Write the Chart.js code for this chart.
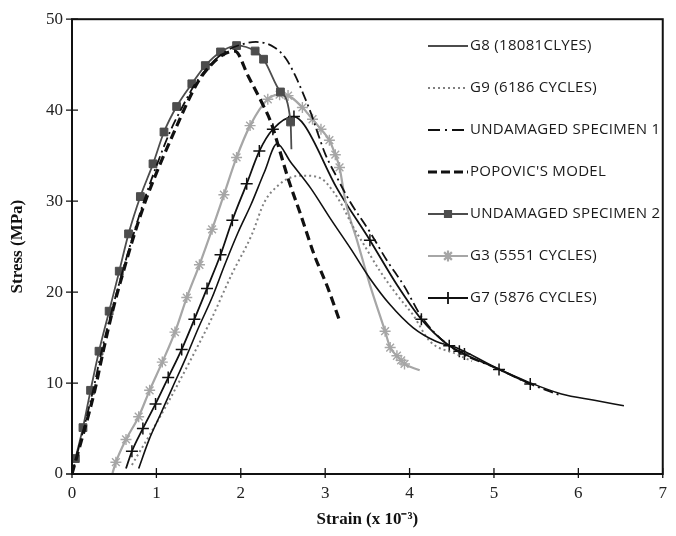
<!DOCTYPE html>
<html>
<head>
<meta charset="utf-8">
<script src="https://cdn.jsdelivr.net/npm/chart.js@4.4.1/dist/chart.umd.min.js"></script>
<style>
  html, body { margin: 0; padding: 0; background: #fff; }
  #wrap { width: 676px; height: 536px; }
</style>
</head>
<body>
<div id="wrap"><canvas id="myChart" width="676" height="536"></canvas></div>
<script>
// axis ticks
const strainTicks = [0, 1, 2, 3, 4, 5, 6, 7];
const stressTicks = [0, 10, 20, 30, 40, 50];

const seriesLabels = [
  "G8 (18081CLYES)",
  "G9 (6186 CYCLES)",
  "UNDAMAGED SPECIMEN 1",
  "POPOVIC'S MODEL",
  "UNDAMAGED SPECIMEN 2",
  "G3 (5551 CYCLES)",
  "G7 (5876 CYCLES)"
];

// strain (x 10^-3) / stress (MPa) per specimen
const g8Strain = [0.79, 0.91, 1.05, 1.19, 1.35, 1.50, 1.66, 1.81, 1.97, 2.12, 2.28, 2.43, 2.59, 2.83, 3.06, 3.30, 3.53, 3.77, 4.04, 4.31, 4.55, 5.02, 5.41, 5.80, 6.19, 6.54];
const g8Stress = [0.6, 3.7, 6.6, 9.5, 12.8, 16.1, 19.4, 23.0, 26.6, 29.6, 33.2, 36.3, 34.3, 31.4, 28.1, 24.8, 21.5, 18.6, 16.1, 14.6, 13.9, 11.7, 10.1, 8.8, 8.1, 7.5];

const g9Strain = [0.71, 0.92, 1.14, 1.42, 1.66, 1.89, 2.13, 2.28, 2.44, 2.59, 2.75, 2.95, 3.10, 3.22, 3.30, 3.46, 3.65, 3.85, 4.04, 4.24, 4.55, 4.74];
const g9Stress = [1.0, 4.3, 7.9, 12.8, 17.2, 21.9, 26.3, 29.9, 31.7, 32.6, 32.8, 32.5, 31.0, 29.2, 27.7, 25.2, 22.3, 19.7, 17.5, 14.6, 13.2, 12.4];

const und1Strain = [0, 0.25, 0.35, 0.47, 0.60, 0.73, 0.87, 1.01, 1.16, 1.31, 1.46, 1.63, 1.81, 2.00, 2.18, 2.40, 2.54, 2.64, 2.74, 2.83, 2.90, 3.00, 3.14, 3.29, 3.53, 3.73, 3.94, 4.14, 4.47, 5.06, 5.43, 5.80];
const und1Stress = [0, 9.2, 13.5, 17.9, 22.3, 26.4, 30.5, 34.1, 37.6, 40.4, 42.9, 44.9, 46.4, 47.2, 47.5, 46.9, 45.6, 43.9, 41.8, 39.7, 37.8, 35.2, 32.6, 30.0, 26.6, 23.5, 20.6, 17.3, 14.1, 11.5, 9.9, 8.6];

const popStrain = [0, 0.27, 0.37, 0.48, 0.61, 0.74, 0.89, 1.21, 1.48, 1.64, 1.79, 1.93, 2.09, 2.24, 2.36, 2.46, 2.56, 2.71, 2.87, 3.03, 3.18];
const popStress = [0, 9.2, 13.5, 17.9, 22.3, 26.4, 30.5, 37.6, 42.9, 44.9, 46.1, 46.5, 43.7, 41.0, 38.6, 35.6, 32.5, 28.5, 24.1, 20.5, 16.6];

const und2Strain = [0.04, 0.13, 0.22, 0.32, 0.44, 0.56, 0.67, 0.81, 0.96, 1.09, 1.24, 1.42, 1.58, 1.76, 1.95, 2.17, 2.27, 2.47, 2.59, 2.60];
const und2Stress = [1.7, 5.1, 9.2, 13.5, 17.9, 22.3, 26.4, 30.5, 34.1, 37.6, 40.4, 42.9, 44.9, 46.4, 47.1, 46.5, 45.6, 42.0, 38.7, 35.7];

const g3Strain = [0.48, 0.52, 0.64, 0.79, 0.92, 1.07, 1.22, 1.36, 1.51, 1.66, 1.80, 1.95, 2.11, 2.32, 2.46, 2.56, 2.73, 2.85, 2.95, 3.05, 3.12, 3.17, 3.24, 3.38, 3.53, 3.71, 3.77, 3.85, 3.90, 3.94, 4.12];
const g3Stress = [0.1, 1.3, 3.8, 6.3, 9.2, 12.3, 15.6, 19.4, 23.0, 26.9, 30.7, 34.8, 38.3, 41.2, 41.7, 41.6, 40.3, 39.0, 37.9, 36.7, 35.1, 33.7, 30.0, 25.6, 20.8, 15.7, 13.9, 13.0, 12.5, 12.1, 11.4];

const g7Strain = [0.64, 0.71, 0.84, 0.99, 1.14, 1.30, 1.45, 1.60, 1.76, 1.90, 2.07, 2.22, 2.38, 2.63, 2.75, 3.14, 3.53, 3.85, 4.14, 4.47, 4.59, 4.65, 5.06, 5.43];
const g7Stress = [0.6, 2.5, 5.0, 7.7, 10.6, 13.7, 17.0, 20.4, 24.1, 27.9, 31.9, 35.5, 37.9, 39.3, 38.4, 31.4, 25.7, 20.8, 17.0, 14.1, 13.5, 13.2, 11.5, 9.9];

// points that are plain curve (no marker)
const und2NoMarker = [19];
const g3NoMarker = [0, 22, 23, 24, 30];
const g7NoMarker = [0, 14, 15, 17];

const ctx = document.getElementById("myChart");

function toPoints(xs, ys) {
  return xs.map((x, i) => ({ x: x, y: ys[i] }));
}

function markerRadius(size, skip) {
  return (c) => (skip.includes(c.dataIndex) ? 0 : size);
}

const serif = "'Liberation Serif', 'Times New Roman', serif";

// box round the plot area and ticks crossing both axes
const frame = {
  id: "frame",
  afterDraw(chart) {
    const c = chart.ctx;
    const a = chart.chartArea;
    const xs = chart.scales.x;
    const ys = chart.scales.y;
    c.save();
    c.strokeStyle = "#111";
    c.lineWidth = 2;
    c.strokeRect(a.left, a.top, a.right - a.left, a.bottom - a.top);
    c.lineWidth = 1.3;
    c.beginPath();
    strainTicks.forEach((t) => {
      const px = xs.getPixelForValue(t);
      c.moveTo(px, a.bottom - 6);
      c.lineTo(px, a.bottom + 4);
    });
    stressTicks.forEach((t) => {
      const py = ys.getPixelForValue(t);
      c.moveTo(a.left - 6, py);
      c.lineTo(a.left + 6, py);
    });
    c.stroke();
    c.restore();
  }
};

// legend drawn inside the plot, top right
const sideLegend = {
  id: "sideLegend",
  afterDraw(chart) {
    const c = chart.ctx;
    c.save();
    chart.data.datasets.forEach((ds, i) => {
      const y = 46 + i * 42;
      c.strokeStyle = ds.borderColor;
      c.lineWidth = ds.borderWidth;
      c.setLineDash(ds.legendDash || ds.borderDash || []);
      c.beginPath();
      c.moveTo(428, y);
      c.lineTo(468, y);
      c.stroke();
      c.setLineDash([]);
      if (ds.legendMarker) {
        c.fillStyle = ds.pointBackgroundColor;
        c.strokeStyle = ds.pointBorderColor;
        Chart.helpers.drawPoint(c, {
          pointStyle: ds.pointStyle,
          radius: ds.legendMarker,
          rotation: 0,
          borderWidth: ds.pointBorderWidth
        }, 448, y);
      }
      c.fillStyle = "#1a1a1a";
      c.font = "15px 'Open Sans'";
      c.letterSpacing = "0.3px";
      c.textBaseline = "middle";
      c.textAlign = "left";
      c.fillText(ds.label, 470, y);
    });
    c.restore();
  }
};

new Chart(ctx, {
  type: "line",
  data: {
    datasets: [
      {
        label: seriesLabels[0],
        data: toPoints(g8Strain, g8Stress),
        borderColor: "#111",
        borderWidth: 1.6,
        pointRadius: 0
      },
      {
        label: seriesLabels[1],
        data: toPoints(g9Strain, g9Stress),
        borderColor: "#808080",
        borderWidth: 2,
        borderDash: [2, 3],
        pointRadius: 0
      },
      {
        label: seriesLabels[2],
        data: toPoints(und1Strain, und1Stress),
        borderColor: "#111",
        borderWidth: 1.8,
        borderDash: [10, 4, 2, 4],
        legendDash: [12, 5, 2, 5],
        pointRadius: 0
      },
      {
        label: seriesLabels[3],
        data: toPoints(popStrain, popStress),
        borderColor: "#111",
        borderWidth: 3.2,
        borderDash: [9, 5],
        legendDash: [9, 4],
        pointRadius: 0
      },
      {
        label: seriesLabels[4],
        data: toPoints(und2Strain, und2Stress),
        borderColor: "#4d4d4d",
        borderWidth: 1.8,
        pointStyle: "rect",
        pointRadius: markerRadius(5.5, und2NoMarker),
        pointBackgroundColor: "#4d4d4d",
        pointBorderColor: "#4d4d4d",
        pointBorderWidth: 1,
        legendMarker: 4.5
      },
      {
        label: seriesLabels[5],
        data: toPoints(g3Strain, g3Stress),
        borderColor: "#a6a6a6",
        borderWidth: 2.2,
        pointStyle: "star",
        pointRadius: markerRadius(5.5, g3NoMarker),
        pointBackgroundColor: "#a6a6a6",
        pointBorderColor: "#a6a6a6",
        pointBorderWidth: 1.4,
        legendMarker: 5.5
      },
      {
        label: seriesLabels[6],
        data: toPoints(g7Strain, g7Stress),
        borderColor: "#111",
        borderWidth: 1.8,
        pointStyle: "cross",
        pointRadius: markerRadius(6, g7NoMarker),
        pointBackgroundColor: "#111",
        pointBorderColor: "#111",
        pointBorderWidth: 1.5,
        legendMarker: 6
      }
    ]
  },
  options: {
    responsive: false,
    animation: false,
    cubicInterpolationMode: "monotone",
    layout: { padding: { top: 16, right: 7, left: 0, bottom: 0 } },
    plugins: {
      legend: { display: false },
      tooltip: { enabled: false }
    },
    scales: {
      x: {
        type: "linear",
        min: 0,
        max: 7,
        afterFit: (s) => { s.height = 62; },
        afterBuildTicks: (s) => { s.ticks = strainTicks.map((v) => ({ value: v })); },
        grid: { display: false, drawTicks: false },
        border: { display: false },
        ticks: { padding: 9, color: "#222", font: { family: serif, size: 17 } },
        title: {
          display: true,
          text: "Strain (x 10⁻³)",
          color: "#111",
          padding: { bottom: 6 },
          font: { family: serif, size: 17, weight: "bold" }
        }
      },
      y: {
        type: "linear",
        min: 0,
        max: 50,
        afterFit: (s) => { s.width = 72; },
        afterBuildTicks: (s) => { s.ticks = stressTicks.map((v) => ({ value: v })); },
        grid: { display: false, drawTicks: false },
        border: { display: false },
        ticks: { padding: 9, color: "#222", font: { family: serif, size: 17 } },
        title: {
          display: true,
          text: "Stress (MPa)",
          color: "#111",
          padding: { top: 7 },
          font: { family: serif, size: 17, weight: "bold" }
        }
      }
    }
  },
  plugins: [frame, sideLegend]
});
</script>
</body>
</html>
